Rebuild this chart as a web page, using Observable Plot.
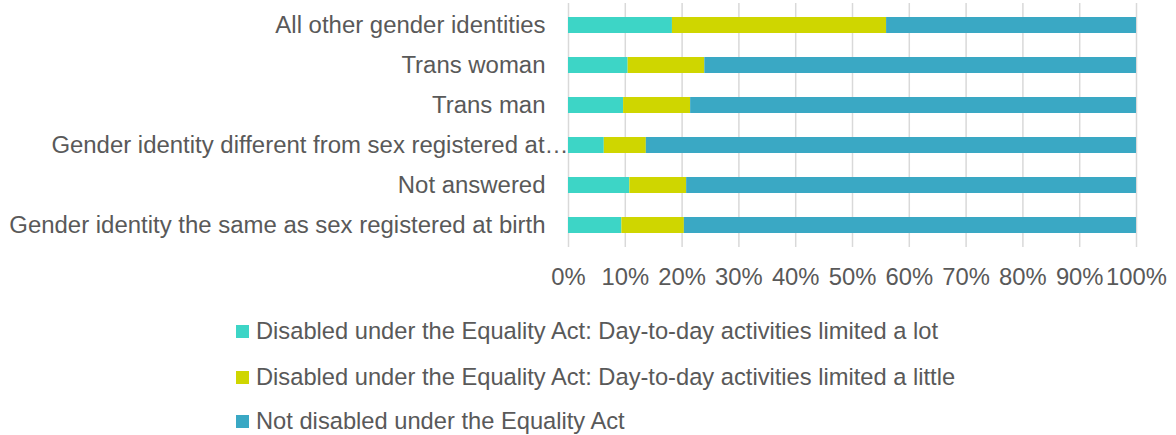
<!DOCTYPE html>
<html>
<head>
<meta charset="utf-8">
<script src="https://cdn.jsdelivr.net/npm/d3@7"></script>
<script src="https://cdn.jsdelivr.net/npm/@observablehq/plot@0.6"></script>
<style>
  body { margin: 0; background: #fff; font-family: "Liberation Sans", Arial, sans-serif; }
  #legend { position: relative; height: 135px; }
  .item { position: absolute; left: 236px; display: flex; align-items: center; font-size: 23.7px; color: #595959; height: 28px; white-space: nowrap; }
  .sw { width: 13px; height: 13px; margin-right: 7px; }
</style>
</head>
<body>
<div id="chart"></div>
<div id="legend"></div>
<script>
const categories = [
  "All other gender identities",
  "Trans woman",
  "Trans man",
  "Gender identity different from sex registered at birth",
  "Not answered",
  "Gender identity the same as sex registered at birth"
];
const categoryLabels = [
  "All other gender identities",
  "Trans woman",
  "Trans man",
  "Gender identity different from sex registered at…",
  "Not answered",
  "Gender identity the same as sex registered at birth"
];
const series = [
  "Disabled under the Equality Act: Day-to-day activities limited a lot",
  "Disabled under the Equality Act: Day-to-day activities limited a little",
  "Not disabled under the Equality Act"
];
const limitedLot    = [18.3, 10.5, 9.7, 6.3, 10.8, 9.4];
const limitedLittle = [37.7, 13.5, 11.8, 7.4, 10.0, 11.0];
const notDisabled   = [44.0, 76.0, 78.5, 86.3, 79.2, 79.6];
const colors = ["#3dd5c6", "#cfd600", "#3aa8c4"];
const xTicks = [0, 10, 20, 30, 40, 50, 60, 70, 80, 90, 100];

const seriesValues = [limitedLot, limitedLittle, notDisabled];
const data = [];
categories.forEach((c, i) => {
  series.forEach((s, j) => {
    data.push({category: c, series: s, order: j, value: seriesValues[j][i] / 100});
  });
});
const labelOf = new Map(categories.map((c, i) => [c, categoryLabels[i]]));
const isTrunc = c => labelOf.get(c).endsWith("…");
const FS = 23.95;

const chart = Plot.plot({
  width: 1176,
  height: 300,
  marginLeft: 568,
  marginRight: 40,
  marginTop: 3,
  marginBottom: 53,
  style: {fontFamily: "'Liberation Sans', Arial, sans-serif", fontSize: FS + "px", color: "#595959", background: "#fff"},
  x: {domain: [0, 1], axis: null},
  y: {domain: categories, paddingInner: 0.6, paddingOuter: 0.3, axis: null},
  color: {domain: series, range: colors},
  marks: [
    Plot.gridX(xTicks.map(d => d / 100), {stroke: "#d9d9d9", strokeOpacity: 1, strokeWidth: 1.5}),
    Plot.barX(data, Plot.stackX({x: "value", y: "category", fill: "series", order: "order"})),
    Plot.axisX({ticks: xTicks.map(d => d / 100), tickFormat: d => Math.round(d * 100) + "%", tickSize: 0, tickPadding: 21, fontSize: 23.8, fill: "#595959", label: null}),
    Plot.text(categories.filter(c => !isTrunc(c)), {
      y: d => d, text: d => labelOf.get(d),
      frameAnchor: "left", textAnchor: "end", dx: -23,
      fontSize: FS, fill: "#595959"
    }),
    Plot.text(categories.filter(isTrunc), {
      y: d => d, text: d => labelOf.get(d),
      frameAnchor: "left", textAnchor: "end", dx: 0,
      fontSize: FS, fill: "#595959"
    })
  ]
});
document.getElementById("chart").appendChild(chart);

const legend = document.getElementById("legend");
const rowCenters = [31, 77, 121];
series.forEach((s, i) => {
  const item = document.createElement("div");
  item.className = "item";
  item.style.top = (rowCenters[i] - 14) + "px";
  const sw = document.createElement("div");
  sw.className = "sw";
  sw.style.background = colors[i];
  item.appendChild(sw);
  const t = document.createElement("span");
  t.textContent = s;
  item.appendChild(t);
  legend.appendChild(item);
});
</script>
</body>
</html>
